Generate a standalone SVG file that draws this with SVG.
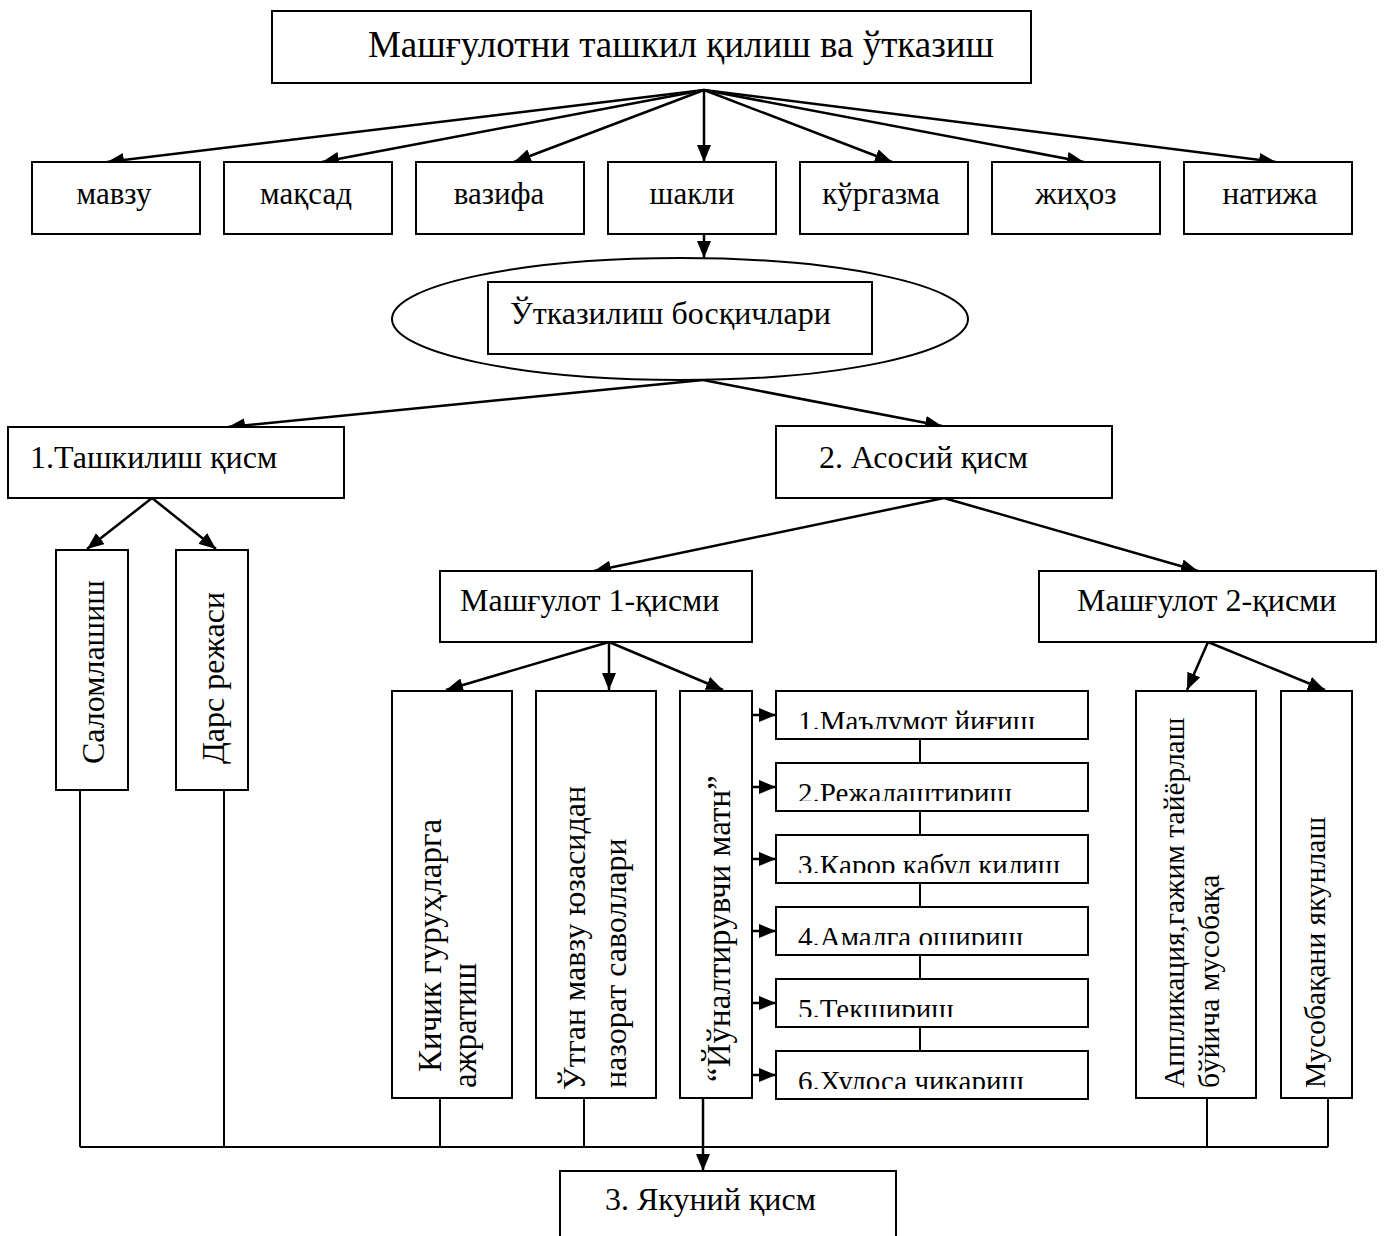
<svg xmlns="http://www.w3.org/2000/svg" width="1384" height="1236" viewBox="0 0 1384 1236">
<style>
.b{fill:#fff;stroke:#000;stroke-width:2}
.t{font-family:"Liberation Serif","Times New Roman",serif;font-size:32px;fill:#000}
.r{font-family:"Liberation Serif","Times New Roman",serif;font-size:31px;fill:#000;text-anchor:middle}
.s{font-family:"Liberation Serif","Times New Roman",serif;font-size:29px;fill:#000}
.c{text-anchor:middle}
.a{stroke:#000;stroke-width:2.5;fill:none;marker-end:url(#ah)}
.l{stroke:#000;stroke-width:2;fill:none}
</style>
<defs>
<marker id="ah" markerWidth="17" markerHeight="14" refX="17" refY="7" orient="auto" markerUnits="userSpaceOnUse"><path d="M0,0 L17,7 L0,14 z" fill="#000"/></marker>
<clipPath id="c1"><rect x="776" y="691" width="312" height="38"/></clipPath>
<clipPath id="c2"><rect x="776" y="763" width="312" height="38"/></clipPath>
<clipPath id="c3"><rect x="776" y="835" width="312" height="38"/></clipPath>
<clipPath id="c4"><rect x="776" y="907" width="312" height="38"/></clipPath>
<clipPath id="c5"><rect x="776" y="979" width="312" height="38"/></clipPath>
<clipPath id="c6"><rect x="776" y="1051" width="312" height="38"/></clipPath>
</defs>

<g id="connectors">
<line class="a" x1="704" y1="90" x2="107" y2="162"/>
<line class="a" x1="704" y1="90" x2="322" y2="162"/>
<line class="a" x1="704" y1="90" x2="514" y2="162"/>
<line class="a" x1="704" y1="90" x2="704" y2="162"/>
<line class="a" x1="704" y1="90" x2="892" y2="162"/>
<line class="a" x1="704" y1="90" x2="1084" y2="162"/>
<line class="a" x1="704" y1="90" x2="1276" y2="162"/>
<line class="a" x1="704" y1="234" x2="704" y2="258"/>
<line class="a" x1="703" y1="380" x2="228" y2="427"/>
<line class="a" x1="703" y1="380" x2="942" y2="426"/>
<line class="a" x1="152" y1="498" x2="87" y2="549"/>
<line class="a" x1="152" y1="498" x2="216" y2="549"/>
<line class="a" x1="944" y1="498" x2="594" y2="571"/>
<line class="a" x1="944" y1="498" x2="1198" y2="571"/>
<line class="a" x1="609" y1="642" x2="446" y2="690"/>
<line class="a" x1="609" y1="642" x2="609" y2="690"/>
<line class="a" x1="609" y1="642" x2="723" y2="690"/>
<line class="a" x1="1208" y1="642" x2="1187" y2="690"/>
<line class="a" x1="1208" y1="642" x2="1325" y2="690"/>
<line class="a" x1="752" y1="715" x2="776" y2="715"/>
<line class="a" x1="752" y1="787" x2="776" y2="787"/>
<line class="a" x1="752" y1="859" x2="776" y2="859"/>
<line class="a" x1="752" y1="931" x2="776" y2="931"/>
<line class="a" x1="752" y1="1003" x2="776" y2="1003"/>
<line class="a" x1="752" y1="1075" x2="776" y2="1075"/>
<path class="l" d="M920,739 V763 M920,811 V835 M920,883 V907 M920,955 V979 M920,1027 V1051"/>
<path class="l" d="M80,790 V1147 M224,790 V1147 M440,1098 V1147 M584,1098 V1147 M1207,1098 V1147 M1328,1098 V1147 M80,1147 H1328"/>
<line class="a" x1="703" y1="1098" x2="703" y2="1171"/>
</g>

<g id="n-top"><rect class="b" x="272" y="11" width="759" height="72"/><text class="t c" x="681" y="57" style="font-size:37px">Машғулотни ташкил қилиш ва ўтказиш</text></g>

<g id="n-mavzu"><rect class="b" x="32" y="162" width="168" height="72"/><text class="r" x="114" y="204">мавзу</text></g>
<g id="n-maqsad"><rect class="b" x="224" y="162" width="168" height="72"/><text class="r" x="306" y="204">мақсад</text></g>
<g id="n-vazifa"><rect class="b" x="416" y="162" width="168" height="72"/><text class="r" x="499" y="204">вазифа</text></g>
<g id="n-shakli"><rect class="b" x="608" y="162" width="168" height="72"/><text class="r" x="692" y="204">шакли</text></g>
<g id="n-kurgazma"><rect class="b" x="800" y="162" width="168" height="72"/><text class="r" x="881" y="204">кўргазма</text></g>
<g id="n-jihoz"><rect class="b" x="992" y="162" width="168" height="72"/><text class="r" x="1076" y="204">жиҳоз</text></g>
<g id="n-natija"><rect class="b" x="1184" y="162" width="168" height="72"/><text class="r" x="1270" y="204">натижа</text></g>

<g id="n-boskich"><ellipse cx="680" cy="319" rx="288" ry="61" fill="#fff" stroke="#000" stroke-width="2"/><rect class="b" x="488" y="282" width="384" height="72"/><text class="t" x="510" y="324">Ўтказилиш босқичлари</text></g>

<g id="n-tashkil"><rect class="b" x="8" y="427" width="336" height="71"/><text class="t" x="30" y="468">1.Ташкилиш қисм</text></g>
<g id="n-asosiy"><rect class="b" x="776" y="426" width="336" height="72"/><text class="t" x="819" y="468">2. Асосий қисм</text></g>

<g id="n-salom"><rect class="b" x="56" y="550" width="72" height="240"/><text class="t c" transform="translate(104,672) rotate(-90)">Саломлашиш</text></g>
<g id="n-dars"><rect class="b" x="176" y="550" width="72" height="240"/><text class="t c" transform="translate(224,678) rotate(-90)">Дарс режаси</text></g>

<g id="n-mash1"><rect class="b" x="440" y="571" width="312" height="71"/><text class="t" x="460" y="611">Машғулот 1-қисми</text></g>
<g id="n-mash2"><rect class="b" x="1039" y="571" width="337" height="71"/><text class="t" x="1077" y="611">Машғулот 2-қисми</text></g>

<g id="n-kichik"><rect class="b" x="392" y="691" width="120" height="407"/><text class="t" transform="translate(441,1072) rotate(-90)" style="font-size:33px">Кичик  гуруҳларга</text><text class="t" transform="translate(476,1088) rotate(-90)" style="font-size:33px">ажратиш</text></g>
<g id="n-utgan"><rect class="b" x="536" y="691" width="120" height="407"/><text class="t" transform="translate(585,1090) rotate(-90)">Ўтган мавзу юзасидан</text><text class="t" transform="translate(626,1088) rotate(-90)">назорат саволлари</text></g>
<g id="n-yunalt"><rect class="b" x="680" y="691" width="72" height="407"/><text class="t" transform="translate(730,1082) rotate(-90)" style="font-size:33px">“Йўналтирувчи матн”</text></g>

<g id="n-s1"><rect class="b" x="776" y="691" width="312" height="48"/><text class="s" x="798" y="731" clip-path="url(#c1)">1.Маълумот йиғиш</text></g>
<g id="n-s2"><rect class="b" x="776" y="763" width="312" height="48"/><text class="s" x="798" y="803" clip-path="url(#c2)">2.Режалаштириш</text></g>
<g id="n-s3"><rect class="b" x="776" y="835" width="312" height="48"/><text class="s" x="798" y="875" clip-path="url(#c3)">3.Қарор қабул қилиш</text></g>
<g id="n-s4"><rect class="b" x="776" y="907" width="312" height="48"/><text class="s" x="798" y="947" clip-path="url(#c4)">4.Амалга ошириш</text></g>
<g id="n-s5"><rect class="b" x="776" y="979" width="312" height="48"/><text class="s" x="798" y="1019" clip-path="url(#c5)">5.Текшириш</text></g>
<g id="n-s6"><rect class="b" x="776" y="1051" width="312" height="48"/><text class="s" x="798" y="1091" clip-path="url(#c6)">6.Хулоса чиқариш</text></g>

<g id="n-app"><rect class="b" x="1136" y="691" width="120" height="407"/><text class="t" transform="translate(1184,1088) rotate(-90)" style="font-size:29.5px">Аппликация,гажим тайёрлаш</text><text class="t" transform="translate(1219,1088) rotate(-90)" style="font-size:29.5px">бўйича мусобақа</text></g>
<g id="n-musob"><rect class="b" x="1281" y="691" width="71" height="407"/><text class="t" transform="translate(1325,1088) rotate(-90)" style="font-size:29.5px">Мусобақани якунлаш</text></g>

<g id="n-yakun"><rect class="b" x="560" y="1171" width="336" height="80"/><text class="t" x="605" y="1210">3. Якуний қисм</text></g>
</svg>
